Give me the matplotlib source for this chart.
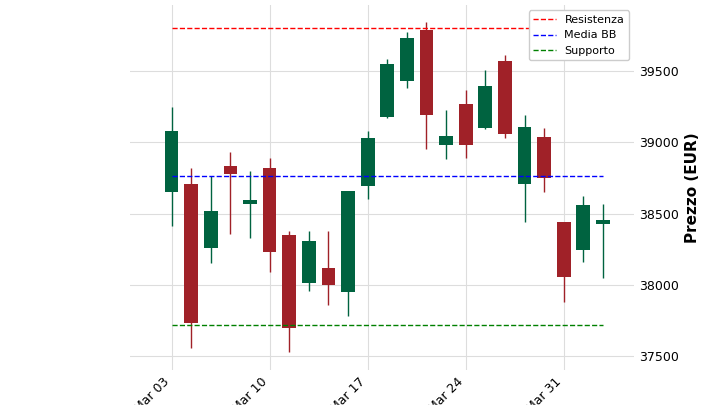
import matplotlib
matplotlib.use("Agg")
import matplotlib.pyplot as plt

dates = ["Mar 03","Mar 04","Mar 05","Mar 06","Mar 07","Mar 10","Mar 11","Mar 12","Mar 13","Mar 14",
         "Mar 17","Mar 18","Mar 19","Mar 20","Mar 21","Mar 24","Mar 25","Mar 26","Mar 27","Mar 28",
         "Mar 31","Apr 01","Apr 02"]
opens  = [38650,38710,38260,38830,38570,38820,38350,38010,38120,37950,38690,39180,39430,39790,38980,39270,39100,39570,38705,39035,38440,38245,38430]
highs  = [39250,38820,38760,38930,38800,38890,38380,38380,38380,38660,39080,39580,39775,39840,39225,39365,39505,39610,39190,39100,38440,38620,38565]
lows   = [38410,37560,38150,38360,38330,38090,37530,37960,37860,37780,38600,39170,39380,38950,38880,38890,39090,39030,38440,38650,37880,38160,38050]
closes = [39080,37730,38520,38780,38595,38230,37700,38310,38000,38660,39030,39550,39730,39190,39045,38980,39395,39060,39105,38750,38055,38560,38455]
resistenza = 39800
media_bb = 38763
supporto = 37718
tick_idx = [0,5,10,15,20]

fig = plt.figure(figsize=(7.2,4.05), dpi=100)
ax = fig.add_axes([0.18,0.086,0.701,0.902])
up, dn = "#006340", "#a02128"
for i,(o,h,l,c) in enumerate(zip(opens,highs,lows,closes)):
    col = up if c >= o else dn
    ax.vlines(i, l, h, color=col, lw=1, zorder=2)
    ax.bar(i, abs(c-o), bottom=min(o,c), width=0.7, color=col, zorder=3)
n = len(dates)
ax.hlines(resistenza, 0, n-1, colors="red", linestyles="--", lw=1, label="Resistenza", zorder=4)
ax.hlines(media_bb, 0, n-1, colors="blue", linestyles="--", lw=1, label="Media BB", zorder=4)
ax.hlines(supporto, 0, n-1, colors="green", linestyles="--", lw=1, label="Supporto", zorder=4)
ax.set_xlim(-2.14, 23.6)
ax.set_ylim(37402, 39963)
ax.set_xticks(tick_idx)
ax.set_xticklabels([dates[i] for i in tick_idx], rotation=45, ha="right", fontsize=9)
ax.set_yticks([37500,38000,38500,39000,39500])
ax.yaxis.tick_right()
ax.yaxis.set_label_position("right")
ax.set_ylabel("Prezzo (EUR)", fontsize=11, fontweight="bold")
ax.tick_params(labelsize=9, length=0)
ax.grid(True, color="#dddddd", lw=0.8, zorder=0)
for s in ax.spines.values():
    s.set_visible(False)
ax.legend(loc="upper right", fontsize=8, framealpha=1)
fig.savefig("out.png", dpi=100)
